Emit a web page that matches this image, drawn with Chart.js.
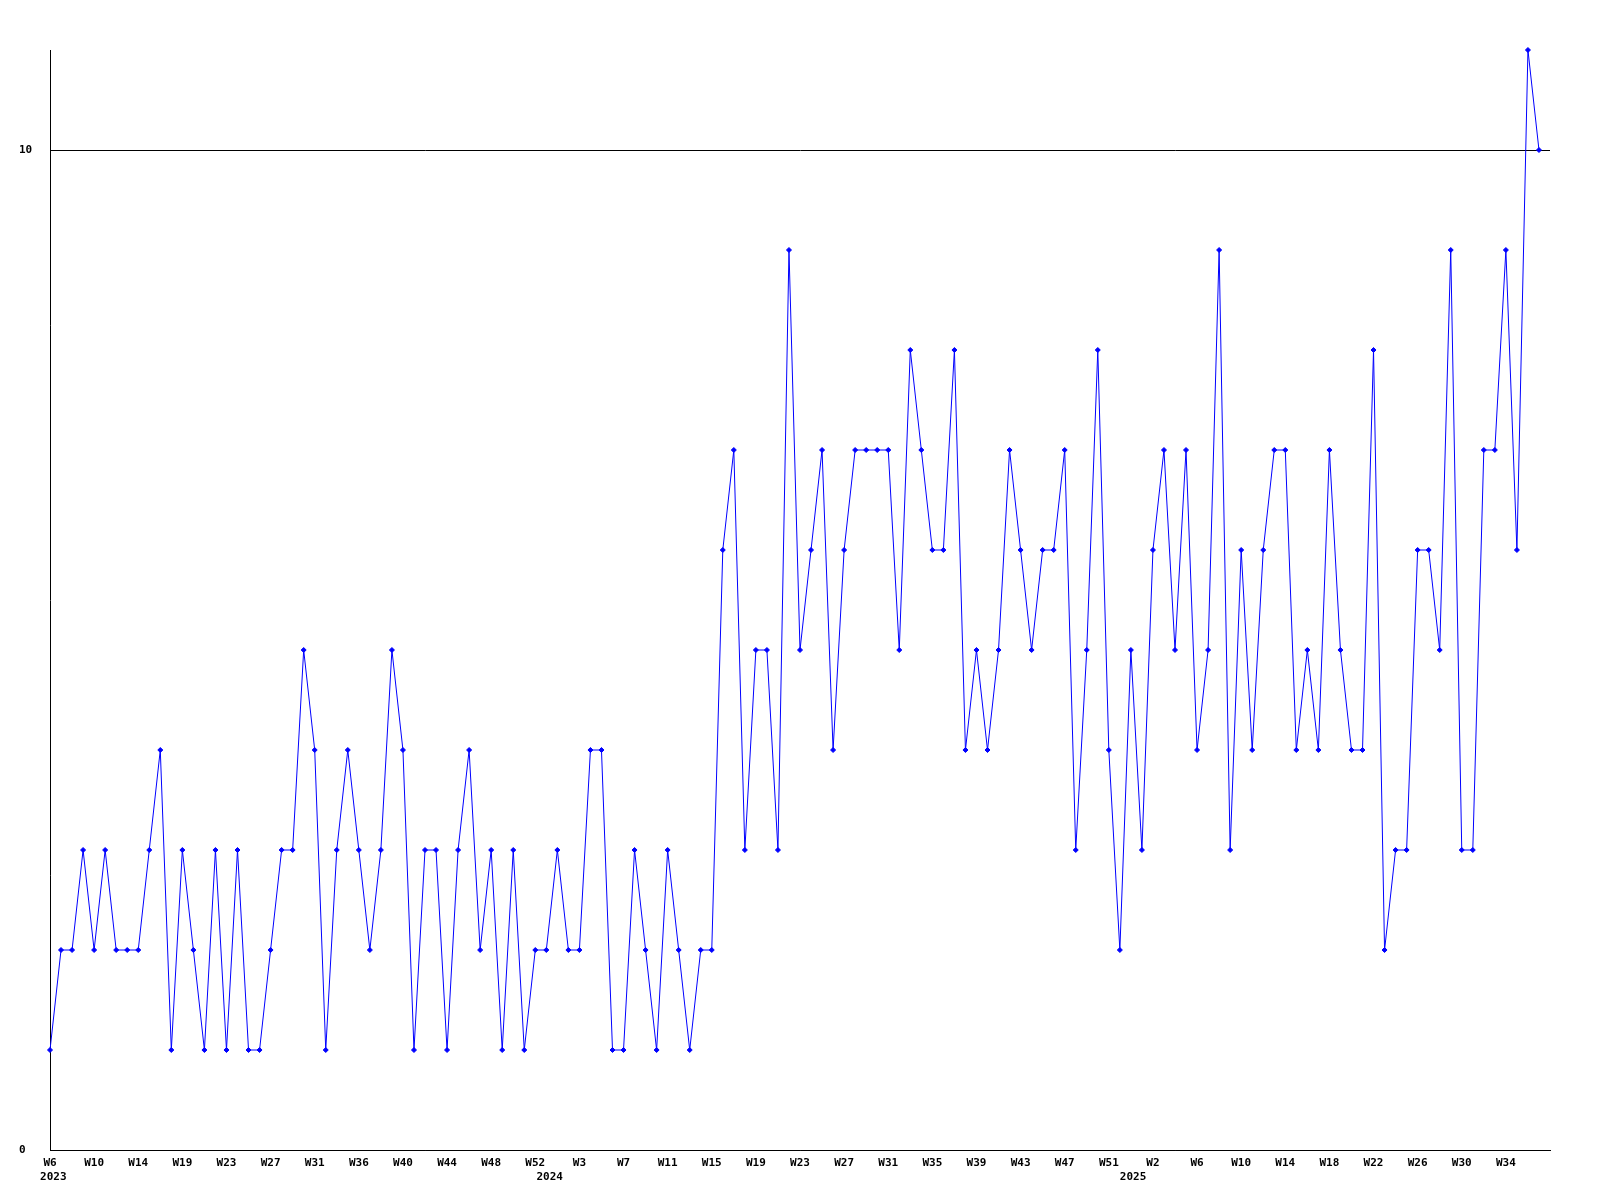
<!DOCTYPE html>
<html>
<head>
<meta charset="utf-8">
<title>Weekly count</title>
<script src="https://cdn.jsdelivr.net/npm/chart.js@4.4.1/dist/chart.umd.min.js"></script>
<style>
	html, body { margin: 0; padding: 0; background: #fff; }
	#chart { display: block; }
</style>
</head>
<body>
<canvas id="chart" width="1600" height="1200"></canvas>
<script>
// One value per week, oldest first
const values = [
	1, 2, 2, 3, 2, 3, 2, 2, 2, 3,
	4, 1, 3, 2, 1, 3, 1, 3, 1, 1,
	2, 3, 3, 5, 4, 1, 3, 4, 3, 2,
	3, 5, 4, 1, 3, 3, 1, 3, 4, 2,
	3, 1, 3, 1, 2, 2, 3, 2, 2, 4,
	4, 1, 1, 3, 2, 1, 3, 2, 1, 2,
	2, 6, 7, 3, 5, 5, 3, 9, 5, 6,
	7, 4, 6, 7, 7, 7, 7, 5, 8, 7,
	6, 6, 8, 4, 5, 4, 5, 7, 6, 5,
	6, 6, 7, 3, 5, 8, 4, 2, 5, 3,
	6, 7, 5, 7, 4, 5, 9, 3, 6, 4,
	6, 7, 7, 4, 5, 4, 7, 5, 4, 4,
	8, 2, 3, 3, 6, 6, 5, 9, 3, 3,
	7, 7, 9, 6, 11, 10
];

// Week labels, one every fourth point
const weekLabels = [
	'W6', 'W10', 'W14', 'W19', 'W23', 'W27', 'W31', 'W36', 'W40', 'W44', 'W48', 'W52',
	'W3', 'W7', 'W11', 'W15', 'W19', 'W23', 'W27', 'W31', 'W35', 'W39', 'W43', 'W47', 'W51',
	'W2', 'W6', 'W10', 'W14', 'W18', 'W22', 'W26', 'W30', 'W34'
];
const weekStep = 4;

// Year labels and the point index where each year starts
const yearLabels = ['2023', '2024', '2025'];
const yearStarts = [0.3, 45.3, 98.2];

// Y ticks that carry a label
const yTicks = [0, 10];

const labelFont = { family: '"DejaVu Sans Mono", monospace', size: 11, weight: 'bold' };

const points = values.map((v, i) => ({ x: i, y: v }));

new Chart(document.getElementById('chart').getContext('2d'), {
	type: 'line',
	data: {
		datasets: [
			{
				data: points,
				clip: false,
				borderColor: '#0000ff',
				backgroundColor: '#0000ff',
				borderWidth: 1,
				tension: 0,
				pointStyle: 'rectRot',
				pointRadius: 2.5,
				pointBorderWidth: 1,
				pointBorderColor: '#0000ff',
				pointBackgroundColor: '#0000ff'
			}
		]
	},
	options: {
		responsive: false,
		animation: false,
		devicePixelRatio: 1,
		layout: {
			padding: { top: 50, right: 50, bottom: 0, left: 19 }
		},
		plugins: {
			legend: { display: false },
			tooltip: { enabled: false },
			title: { display: false }
		},
		scales: {
			x: {
				type: 'linear',
				position: 'bottom',
				min: 0,
				max: 136,
				weight: 0,
				afterBuildTicks(scale) {
					scale.ticks = weekLabels.map((label, k) => ({ value: k * weekStep }));
				},
				afterFit(scale) {
					scale.height = 16;
				},
				grid: { display: false, drawTicks: false },
				border: { display: true, color: '#000', width: 1 },
				ticks: {
					autoSkip: false,
					maxRotation: 0,
					padding: 7,
					color: '#000',
					font: labelFont,
					callback: (value, index) => weekLabels[index]
				}
			},
			xYear: {
				type: 'linear',
				position: 'bottom',
				min: 0,
				max: 136,
				weight: 1,
				afterBuildTicks(scale) {
					scale.ticks = yearStarts.map((v) => ({ value: v }));
				},
				afterFit(scale) {
					scale.height = 34;
				},
				grid: { display: false, drawTicks: false },
				border: { display: false },
				ticks: {
					autoSkip: false,
					maxRotation: 0,
					padding: 5,
					color: '#000',
					font: labelFont,
					callback: (value, index) => yearLabels[index]
				}
			},
			y: {
				type: 'linear',
				min: 0,
				max: 11,
				afterBuildTicks(scale) {
					scale.ticks = yTicks.map((v) => ({ value: v }));
				},
				afterFit(scale) {
					scale.width = 31;
				},
				grid: {
					display: true,
					drawTicks: false,
					color: '#000',
					lineWidth: 1
				},
				border: { display: true, color: '#000', width: 1 },
				ticks: {
					crossAlign: 'far',
					padding: 0,
					color: '#000',
					font: labelFont,
					callback: (value) => String(value)
				}
			}
		}
	}
});
</script>
</body>
</html>
